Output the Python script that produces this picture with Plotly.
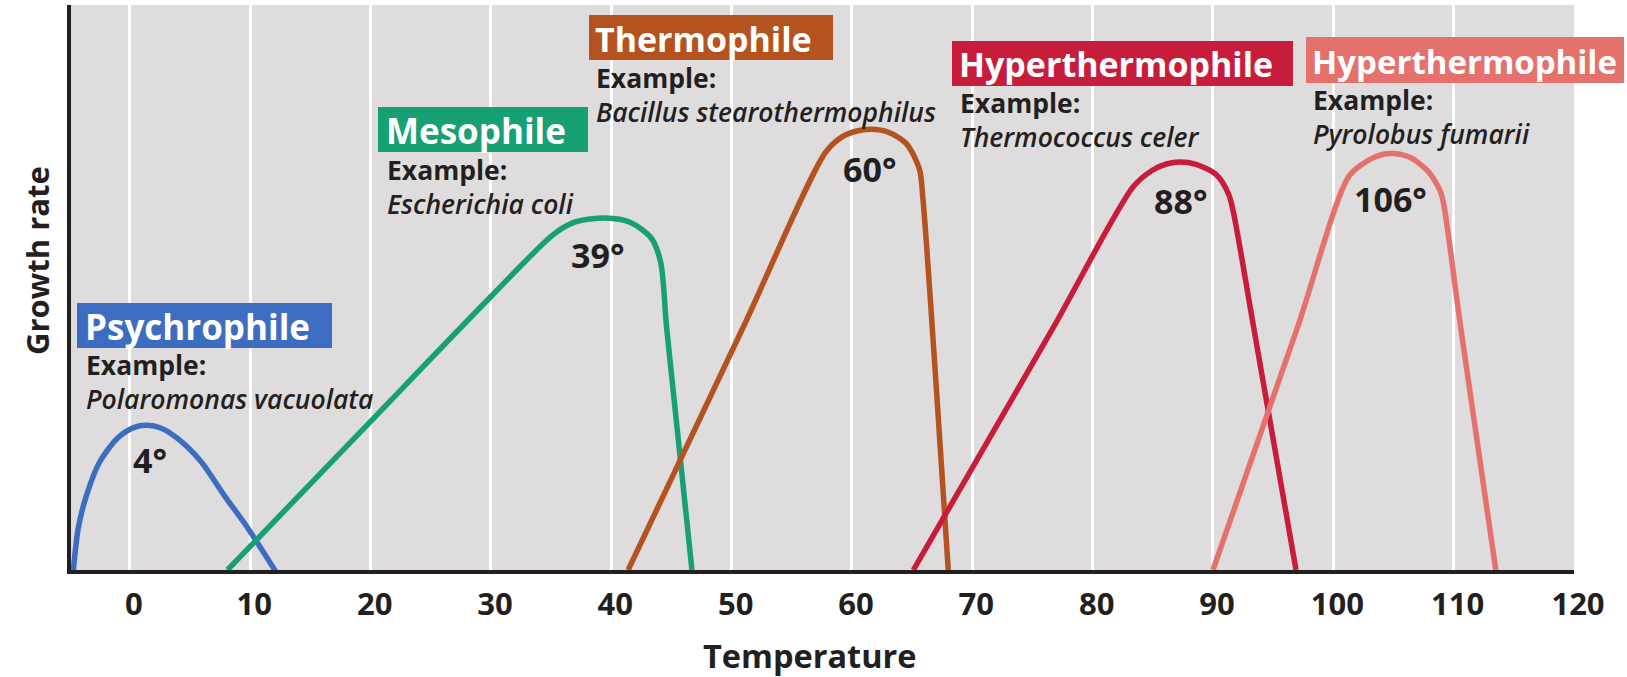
import plotly.graph_objects as go

# ---------------- data ----------------
psy_temp = [-4.7, -4.3, -3.6, -2.5, -1.0, 0.3, 1.4, 2.6, 4.0, 5.9, 7.8, 9.8, 12.3]
psy_rate = [0, 7.4, 13.3, 19.2, 23.4, 25.2, 25.6, 25.1, 23.2, 19.2, 13.3, 7.4, -0.9]

meso_temp = [8.1, 19.5, 30.0, 35.2, 37.0, 39.5, 41.6, 43.3, 44.1, 44.6, 46.7]
meso_rate = [0, 25.2, 48.4, 59.4, 61.6, 62.3, 61.5, 58.8, 54.5, 42.8, 0]

thermo_temp = [41.4, 50.9, 57.8, 59.2, 60.4, 61.6, 63.0, 64.5, 65.6, 65.9, 68.0]
thermo_rate = [0, 42.7, 73.9, 76.7, 77.7, 78.0, 77.5, 75.5, 71.0, 65.6, 0]

hyper1_temp = [65.1, 76.7, 83.4, 85.0, 86.2, 87.2, 88.6, 90.3, 91.3, 91.7, 93.4, 96.9]
hyper1_rate = [0, 42.8, 67.9, 70.8, 71.9, 72.2, 71.8, 69.9, 66.5, 63.3, 42.7, 0]

hyper2_temp = [90.0, 97.0, 101.3, 102.9, 104.0, 105.0, 106.4, 107.9, 108.9, 109.2, 110.6, 113.5]
hyper2_rate = [0, 42.8, 69.7, 72.5, 73.5, 73.7, 73.0, 70.5, 67.0, 64.4, 42.7, 0]

group_names = ["Psychrophile", "Mesophile", "Thermophile", "Hyperthermophile", "Hyperthermophile"]
example_species = ["Polaromonas vacuolata", "Escherichia coli", "Bacillus stearothermophilus",
                   "Thermococcus celer", "Pyrolobus fumarii"]
optimum_labels = ["4°", "39°", "60°", "88°", "106°"]
tick_values = [0, 10, 20, 30, 40, 50, 60, 70, 80, 90, 100, 110, 120]
tick_labels = [str(v) for v in tick_values]

# ---------------- styles ----------------
colors = ["#3d6dc1", "#17a073", "#b4531f", "#c71d3b", "#e5716d"]
title_sizes = [35, 35, 34, 34, 33]
FONT = "Open Sans"
INK = "#231f20"

# plot area in pixels
W, H = 1627, 677
L, R, T, B = 71, 1574, 5, 570


def px_x(px):
    return (px - L) / (R - L)


def px_y(py):
    return (B - py) / (B - T)


fig = go.Figure()
series = [(psy_temp, psy_rate), (meso_temp, meso_rate), (thermo_temp, thermo_rate),
          (hyper1_temp, hyper1_rate), (hyper2_temp, hyper2_rate)]
for (xs, ys), c, n in zip(series, colors, group_names):
    fig.add_trace(go.Scatter(x=xs, y=ys, mode="lines", name=n,
                             line=dict(color=c, width=5.5, shape="spline", smoothing=0.8),
                             showlegend=False, hoverinfo="skip"))

# label box layout (pixel boxes: left, top, right, bottom; text left; example y; species y)
boxes = [
    (77, 303, 332, 348, 86, 363, 397),
    (378, 107, 588, 152, 387, 169, 201),
    (589, 15, 833, 60, 596, 76, 109),
    (952, 41, 1293, 86, 960, 101, 135),
    (1306, 37, 1624, 83, 1313, 99, 131),
]
opt_pos = [(150, 459), (597, 254), (870, 168), (1180, 200), (1390, 198)]

shapes = []
annotations = []
for i, (x0, y0, x1, y1, tx, ey, sy) in enumerate(boxes):
    shapes.append(dict(type="rect", xref="paper", yref="paper",
                       x0=px_x(x0), x1=px_x(x1), y0=px_y(y1), y1=px_y(y0),
                       fillcolor=colors[i], line=dict(width=0), layer="above"))
    annotations.append(dict(xref="paper", yref="paper", x=px_x(tx - 1), y=px_y((y0 + y1) / 2 + 1),
                            xanchor="left", yanchor="middle", showarrow=False,
                            text=group_names[i], borderpad=0, borderwidth=0,
                            font=dict(family=FONT, size=title_sizes[i], color="white", weight=700)))
    annotations.append(dict(xref="paper", yref="paper", x=px_x(tx), y=px_y((ey + sy) / 2 + 2),
                            xanchor="left", yanchor="middle", showarrow=False, align="left",
                            text="<b>Example:</b><br><i>" + example_species[i] + "</i>",
                            borderpad=0, borderwidth=0,
                            font=dict(family=FONT, size=26.5, color=INK, weight=600)))
    ox, oy = opt_pos[i]
    annotations.append(dict(xref="paper", yref="paper", x=px_x(ox), y=px_y(oy + 1),
                            xanchor="center", yanchor="middle", showarrow=False,
                            text=optimum_labels[i], borderpad=0, borderwidth=0,
                            font=dict(family=FONT, size=34, color=INK, weight=700)))

# axis titles
annotations.append(dict(xref="paper", yref="paper", x=px_x(37), y=px_y(261),
                        xanchor="center", yanchor="middle", showarrow=False, textangle=-90,
                        text="Growth rate", borderpad=0, borderwidth=0,
                        font=dict(family=FONT, size=31, color=INK, weight=700)))
annotations.append(dict(xref="paper", yref="paper", x=px_x(810), y=px_y(655),
                        xanchor="center", yanchor="middle", showarrow=False,
                        text="Temperature", borderpad=0, borderwidth=0,
                        font=dict(family=FONT, size=32.5, color=INK, weight=700)))

fig.update_layout(
    width=W, height=H,
    margin=dict(l=L, r=W - R, t=T, b=H - B, pad=0),
    paper_bgcolor="white",
    plot_bgcolor="#dedcdd",
    shapes=shapes,
    annotations=annotations,
    showlegend=False,
    xaxis=dict(range=[-4.9, 120], tickvals=tick_values, ticktext=tick_labels,
               showgrid=True, gridcolor="white", gridwidth=3, zeroline=False,
               showline=True, linecolor=INK, linewidth=4,
               ticks="outside", ticklen=0, tickcolor="rgba(0,0,0,0)",
               ticklabelstandoff=4, ticklabelshift=4,
               tickfont=dict(family=FONT, size=31, color=INK, weight=700)),
    yaxis=dict(range=[0, 100], showgrid=False, zeroline=False, showticklabels=False,
               showline=True, linecolor=INK, linewidth=4, ticks=""),
)

fig.write_html("out.html", config={"displayModeBar": False},
               post_script="document.body.style.margin='0';document.body.style.overflow='hidden';")
